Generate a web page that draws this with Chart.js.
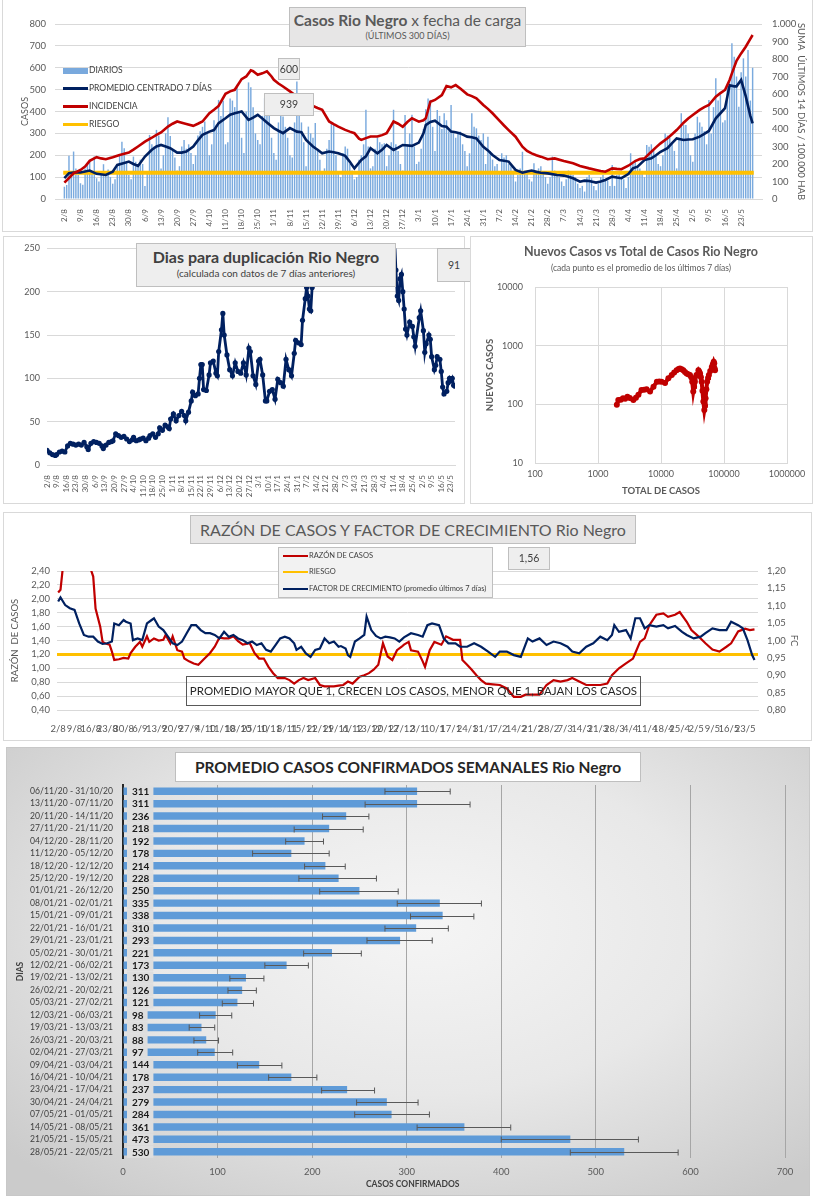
<!DOCTYPE html>
<html>
<head>
<meta charset="utf-8">
<script src="https://cdn.jsdelivr.net/npm/chart.js@4.4.0/dist/chart.umd.min.js"></script>
<style>
  body { margin: 0; width: 816px; height: 1200px; position: relative; background: #fff; font-family: Lato, "Noto Sans", sans-serif; overflow: hidden; }
  .panel { position: absolute; box-sizing: border-box; border: 1px solid #d9d9d9; background: #fff; }
  canvas { position: absolute; }
  .caja { position: absolute; box-sizing: border-box; border: 1px solid #bfbfbf; background: #eeeeee; color: #404040; text-align: center; }
  .txt { position: absolute; color: #404040; white-space: nowrap; }
  .ley { position: absolute; font-size: 8.5px; color: #404040; white-space: nowrap; }
  .ley i { display: inline-block; width: 25px; vertical-align: middle; margin-right: 1px; }
</style>
</head>
<body>

<!-- panel 1 -->
<div class="panel" style="left:2px;top:-1px;width:811px;height:233px"></div>
<canvas id="c1" width="816" height="232" style="left:0;top:0"></canvas>
<div class="caja" style="left:289px;top:7px;width:237px;height:40px;background:#e7e6e6">
  <div style="font-size:15.5px;color:#595959;margin-top:3px"><b>Casos Rio Negro</b> x fecha de carga</div>
  <div style="font-size:9px;color:#595959;margin-top:1px">(ÚLTIMOS 300 DÍAS)</div>
</div>
<div class="ley" style="left:63px;top:65px"><i style="height:6px;background:#79a9dd"></i>DIARIOS</div>
<div class="ley" style="left:63px;top:83px"><i style="height:3px;background:#002060"></i>PROMEDIO CENTRADO 7 DÍAS</div>
<div class="ley" style="left:63px;top:101px"><i style="height:3px;background:#c00000"></i>INCIDENCIA</div>
<div class="ley" style="left:63px;top:119px"><i style="height:3px;background:#ffc000"></i>RIESGO</div>
<div class="caja" id="ultDiario" style="left:278px;top:58px;width:22px;height:22px;font-size:10.5px;line-height:20px"></div>
<div class="caja" id="ultIncid" style="left:264px;top:93px;width:50px;height:23px;font-size:10.5px;line-height:21px"></div>

<!-- panel 2 -->
<div class="panel" style="left:3px;top:236px;width:462px;height:268px"></div>
<canvas id="c2" width="462" height="268" style="left:3px;top:236px"></canvas>
<div class="caja" style="left:136px;top:243px;width:260px;height:44px;background:#eeeeee">
  <div style="font-size:16px;font-weight:bold;color:#404040;margin-top:3px">Dias para duplicación Rio Negro</div>
  <div style="font-size:10px;color:#404040;margin-top:1px">(calculada con datos de 7 días anteriores)</div>
</div>
<div class="caja" id="ultDup" style="left:437px;top:248px;width:34px;height:34px;font-size:10.5px;line-height:32px"></div>

<!-- panel 3 -->
<div class="panel" style="left:470px;top:236px;width:343px;height:268px"></div>
<canvas id="c3" width="342" height="268" style="left:470px;top:236px"></canvas>
<div class="txt" style="left:470px;width:342px;top:244px;text-align:center;font-size:12.5px;font-weight:bold;color:#595959">Nuevos Casos vs Total de Casos Rio Negro</div>
<div class="txt" style="left:470px;width:342px;top:263px;text-align:center;font-size:8.5px;color:#595959">(cada punto es el promedio de los últimos 7 días)</div>

<!-- panel 4 -->
<div class="panel" style="left:3px;top:512px;width:809px;height:229px"></div>
<canvas id="c4" width="809" height="228" style="left:3px;top:512px"></canvas>
<div class="caja" style="left:190px;top:515px;width:446px;height:29px;background:#e7e6e6;font-size:16px;line-height:27px;color:#595959">RAZÓN DE CASOS Y FACTOR DE CRECIMIENTO Rio Negro</div>
<div class="caja" style="left:278px;top:547px;width:215px;height:51px;background:#f2f2f2;text-align:left">
  <div class="ley" style="left:4px;top:3px;font-size:7.5px"><i style="height:2px;background:#c00000"></i>RAZÓN DE CASOS</div>
  <div class="ley" style="left:4px;top:19px;font-size:7.5px"><i style="height:2px;background:#ffc000"></i>RIESGO</div>
  <div class="ley" style="left:4px;top:36px;font-size:7.5px"><i style="height:2px;background:#002060"></i>FACTOR DE CRECIMIENTO (promedio últimos 7 días)</div>
</div>
<div class="caja" id="ultRazon" style="left:508px;top:547px;width:42px;height:23px;font-size:10.5px;line-height:21px"></div>
<div class="caja" style="left:186px;top:676px;width:455px;height:30px;background:transparent;border-color:#595959;font-size:11.5px;line-height:28px;color:#262626">PROMEDIO MAYOR QUE 1, CRECEN LOS CASOS, MENOR QUE 1, BAJAN LOS CASOS</div>

<!-- panel 5 -->
<div class="panel" style="left:6px;top:747px;width:804px;height:449px;border-color:#c8c8c8;background:radial-gradient(ellipse 70% 75% at 52% 40%, #f5f5f5 0%, #e8e8e8 50%, #cbcbcb 100%)"></div>
<canvas id="c5" width="816" height="455" style="left:0;top:745px"></canvas>
<div class="caja" style="left:175px;top:752px;width:466px;height:30px;background:#fff;font-size:15.5px;font-weight:bold;line-height:28px;color:#262626">PROMEDIO CASOS CONFIRMADOS SEMANALES Rio Negro</div>
<div class="txt" style="left:366px;top:1179px;font-size:8.5px;font-weight:bold;color:#404040">CASOS CONFIRMADOS</div>

<script>
// ---------- datos ----------
const etiquetasSemanas = ['2/8','9/8','16/8','23/8','30/8','6/9','13/9','20/9','27/9','4/10','11/10','18/10','25/10',
  '1/11','8/11','15/11','22/11','29/11','6/12','13/12','20/12','27/12','3/1','10/1','17/1','24/1','31/1',
  '7/2','14/2','21/2','28/2','7/3','14/3','21/3','28/3','4/4','11/4','18/4','25/4','2/5','9/5','16/5','23/5'];

// casos diarios (un valor por día desde 2/8)
const diarios = [
  56, 64, 198, 120, 217, 140, 110,
  72, 65, 140, 160, 179, 120, 194,
  95, 80, 110, 159, 120, 135, 100,
  70, 90, 160, 200, 262, 232, 170,
  110, 90, 194, 170, 150, 180, 160,
  60, 120, 293, 250, 240, 316, 290,
  140, 200, 300, 374, 288, 220, 190,
  130, 150, 240, 270, 230, 250, 210,
  160, 200, 290, 310, 330, 354, 300,
  200, 250, 360, 340, 453, 380, 449,
  250, 260, 460, 450, 420, 522, 400,
  280, 210, 400, 533, 511, 420, 300,
  270, 250, 380, 461, 453, 420, 280,
  210, 180, 350, 392, 377, 330, 280,
  200, 190, 350, 537, 400, 350, 260,
  150, 331, 300, 280, 347, 220, 180,
  120, 140, 230, 270, 347, 339, 200,
  120, 100, 210, 240, 230, 160, 130,
  90, 100, 180, 200, 250, 408, 240,
  140, 150, 230, 280, 260, 250, 255,
  150, 200, 260, 408, 250, 220, 160,
  130, 384, 250, 300, 385, 240, 160,
  170, 230, 320, 410, 460, 453, 330,
  220, 407, 380, 320, 392, 360, 310,
  430, 300, 280, 300, 308, 250, 220,
  150, 209, 392, 330, 323, 290, 270,
  300, 160, 285, 220, 180, 150, 160,
  120, 209, 190, 200, 160, 150, 130,
  80, 110, 140, 216, 130, 120, 90,
  80, 163, 130, 140, 150, 120, 100,
  70, 100, 194, 130, 120, 100, 80,
  60, 90, 130, 120, 110, 100, 70,
  50, 60, 34, 100, 110, 95, 60,
  40, 70, 100, 110, 90, 85, 60,
  155, 60, 110, 120, 100, 90, 50,
  100, 209, 160, 180, 150, 140, 120,
  100, 247, 239, 250, 220, 200, 160,
  150, 200, 300, 290, 280, 250, 220,
  140, 280, 392, 340, 338, 300, 200,
  170, 300, 376, 350, 330, 310, 250,
  453, 300, 420, 552, 450, 476, 350,
  360, 520, 536, 712, 650, 560, 422,
  580, 643, 560, 681, 450, 600
];

// promedio centrado 7 días (día, casos)
const promedioDias = [0,2,4,7,11,14,18,21,23,26,28,30,32,35,38,40,42,44,46,49,51,53,56,58,60,63,65,67,70,72,74,77,80,82,84,86,88,91,93,95,98,101,103,105,108,110,112,115,117,119,122,124,126,129,131,133,136,138,140,143,145,147,151,154,156,157,159,161,164,166,168,170,172,175,177,179,182,184,186,189,191,193,196,199,201,203,205,207,210,214,217,219,221,224,226,228,231,233,235,238,240,242,245,247,249,252,255,257,259,262,264,266,269,271,273,276,278,280,283,285,287,289,291,292,294,296,298,299];
const promedioCasos = [95,118,121,121,130,115,110,125,156,165,171,160,151,194,225,240,247,240,232,212,212,217,240,268,293,308,315,347,369,385,392,400,362,372,385,368,350,324,312,301,324,308,305,270,240,225,209,217,214,209,197,170,140,179,195,232,209,225,247,224,235,247,243,258,300,338,352,358,334,330,308,305,300,285,282,277,239,222,201,178,175,171,133,120,126,130,124,120,117,110,107,102,95,79,84,82,75,80,87,102,98,95,114,140,148,178,186,200,216,232,255,277,270,272,273,285,298,311,369,392,415,520,515,515,544,470,380,346];

// incidencia: suma últimos 14 días / 100.000 hab
const incidenciaDias = [0,2,4,7,9,11,14,16,18,21,24,28,30,32,35,38,40,42,45,47,49,51,53,56,58,60,63,65,67,70,72,74,77,79,81,82,84,86,88,90,91,93,95,98,101,103,105,108,110,112,115,117,119,122,124,126,128,129,131,133,136,138,140,142,143,145,147,149,151,154,156,157,159,161,164,166,168,170,172,175,177,179,182,184,186,189,191,193,196,199,201,203,205,207,210,213,217,221,224,228,231,233,235,238,240,242,245,248,250,252,255,257,259,262,264,266,269,271,273,276,278,280,283,285,287,289,290,292,294,296,298,299];
const incidenciaValores = [94,120,147,166,185,218,239,232,227,239,252,265,282,300,328,350,366,380,414,430,443,436,429,418,430,443,490,510,532,601,615,624,685,700,735,730,710,718,729,700,681,660,643,615,586,575,567,532,520,510,443,428,414,395,385,376,345,338,348,357,357,365,376,420,443,430,413,440,461,442,450,461,556,566,594,646,638,651,632,598,588,575,537,515,490,448,420,394,356,299,275,261,250,242,227,232,217,204,189,175,166,160,156,175,172,170,190,217,228,232,270,295,318,347,370,394,436,460,480,509,525,537,585,605,623,680,718,790,832,870,915,937];
const riesgoIncidencia = 150;
const ultimoDiario = 600;
const ultimaIncidencia = 939;

// días para duplicación
const duplicacionDias = [0,2,4,6,7,9,11,13,15,17,19,21,23,25,27,29,30,32,34,36,38,40,41,43,45,47,48,50,52,54,56,58,60,62,63,65,67,68,70,72,74,75,77,79,81,82,84,86,88,89,90,92,94,96,98,100,101,103,105,106,108,110,111,112,113,114,116,118,119,121,123,124,125,127,128,129,131,133,135,137,139,141,143,145,147,148,150,152,154,155,157,159,160,162,164,166,168,170,172,174,176,178,180,181,183,185,186,188,189,190,191,192,193,195,197,200,215,235,250,253,254,255,256,257,258,259,260,261,262,264,266,267,268,271,272,274,275,276,278,279,280,282,283,284,286,287,288,289,291,292,293,294,295,296,297];
const duplicacionValores = [17,14,12,11,12,15,16,15,22,25,24,23,24,23,26,21,18,25,27,26,25,22,19,23,26,27,28,36,34,32,33,30,27,29,32,28,29,30,31,28,31,34,36,32,36,43,40,46,44,42,53,59,51,57,62,57,51,61,74,84,80,82,100,116,116,87,86,104,118,120,106,103,131,156,175,150,127,110,103,118,108,106,118,104,135,131,103,93,120,122,104,74,74,85,87,76,99,95,91,122,110,103,129,144,141,139,167,192,205,195,180,178,205,265,340,420,520,480,330,262,225,195,190,215,220,200,180,157,150,165,160,148,137,170,178,155,130,140,150,145,125,110,115,125,122,108,90,82,85,95,100,97,100,92,91];
const ultimaDuplicacion = 91;

// nuevos casos vs total de casos (promedio 7 días)
const totalCasos = [1990,2100,2300,2500,2700,2930,3200,3640,4000,4380,4900,5400,5900,6700,7600,8600,9400,10200,11600,13100,14800,16200,17700,19000,20000,21300,22600,24000,25500,27000,28800,30200,31300,32500,33500,34500,36600,39300,40500,41700,43000,44200,45500,47000,48700,50000,51000,52500,54000,55800,57600,60500,64000,66500,68600,70000,71000,72000];
const nuevosCasos = [98,118,120,127,125,135,128,118,130,145,175,178,180,165,200,243,245,243,230,277,316,350,380,400,410,395,380,355,335,325,316,290,243,165,200,243,316,380,360,335,290,243,170,112,80,95,127,180,243,280,316,370,435,480,530,500,410,380];
const ticksTotal = [100, 1000, 10000, 100000, 1000000];
const ticksNuevos = [10, 100, 1000, 10000];

// razón de casos y factor de crecimiento
const razonDias = [0,1,2,4,8,12,14,15,16,18,19,20,22,23,24,26,28,30,31,33,35,36,38,39,41,43,45,46,48,49,51,53,54,56,58,60,62,65,67,69,71,73,75,77,79,82,84,86,88,90,92,94,97,99,101,103,105,107,110,112,114,116,118,120,122,124,126,129,131,133,135,137,139,141,143,145,147,148,150,151,154,156,157,159,161,164,166,169,172,173,175,177,179,181,183,186,189,192,195,198,200,203,206,209,212,215,218,220,223,226,229,232,235,237,240,243,246,247,249,251,253,256,259,261,264,266,269,271,274,277,280,283,286,288,291,294,296,298];
const razonValores = [2.09,2.13,2.45,2.7,3.0,2.8,2.42,2.32,1.86,1.60,1.38,1.36,1.34,1.24,1.12,1.13,1.15,1.14,1.22,1.31,1.38,1.31,1.46,1.38,1.43,1.40,1.41,1.48,1.36,1.46,1.26,1.24,1.14,1.10,1.07,1.05,1.12,1.22,1.31,1.44,1.43,1.43,1.46,1.39,1.34,1.36,1.22,1.14,1.14,1.02,0.93,0.86,0.86,0.83,0.78,0.83,0.86,0.83,0.86,0.76,0.74,0.74,0.74,0.75,0.76,0.81,0.78,0.88,0.90,0.93,0.98,1.05,1.36,1.17,1.12,1.26,1.31,1.34,1.38,1.26,1.24,1.10,1.02,1.26,1.38,1.34,1.46,1.41,1.41,1.12,1.05,0.98,0.90,0.83,0.78,0.77,0.76,0.71,0.59,0.59,0.62,0.62,0.62,0.76,0.83,0.81,0.83,0.86,0.81,0.76,0.76,0.76,0.78,0.90,1.00,1.07,1.14,1.22,1.38,1.43,1.62,1.77,1.79,1.74,1.77,1.81,1.67,1.55,1.46,1.36,1.27,1.24,1.31,1.36,1.53,1.57,1.55,1.56];
const fcDias = [0,1,3,5,7,9,11,13,15,17,19,21,23,24,26,28,29,31,32,34,36,38,40,41,43,45,47,49,51,53,55,57,59,61,63,65,67,69,71,73,75,77,79,81,83,85,87,89,91,93,95,97,99,101,102,104,106,108,110,112,114,116,118,120,121,123,124,125,127,129,131,132,134,136,138,140,142,144,146,148,151,154,156,158,160,163,165,167,170,172,175,178,181,184,187,189,192,195,198,201,203,206,209,212,215,218,220,223,226,229,232,235,237,238,240,243,245,247,249,251,253,256,259,261,264,267,269,272,275,277,280,283,286,288,291,293,295,297,298];
const fcValores = [1.112,1.124,1.102,1.093,1.088,1.049,1.016,1.011,1.011,0.997,0.990,0.992,0.997,1.049,1.044,1.059,1.054,1.049,1.001,1.006,1.001,1.049,1.059,1.064,1.040,1.030,1.011,0.992,0.987,0.997,1.021,1.044,1.044,1.030,1.021,1.021,1.016,1.006,1.025,1.011,1.016,1.006,1.001,0.992,0.997,0.987,0.992,0.973,0.968,0.987,1.006,1.011,1.006,0.992,0.973,0.982,0.963,0.953,0.973,0.977,1.006,0.992,0.997,0.982,0.984,0.977,0.958,0.953,0.997,1.006,1.016,1.069,1.030,1.013,1.006,1.011,1.009,1.006,0.997,1.009,1.021,1.016,1.011,1.044,1.049,1.044,1.006,0.992,0.992,0.982,0.982,0.992,0.982,0.968,0.953,0.968,0.968,0.958,0.953,1.006,0.997,1.006,0.987,0.997,0.992,0.982,0.968,0.963,0.982,0.992,1.011,1.001,1.016,1.044,1.025,1.030,1.006,1.064,1.064,1.035,1.044,1.040,1.044,1.035,1.042,1.025,1.016,1.006,1.011,1.021,1.035,1.030,1.030,1.054,1.044,1.035,1.001,0.958,0.944];
const riesgoRazon = 1.2;
const ultimaRazon = '1,56';

// promedio semanal de casos confirmados
const semanas = ['06/11/20 - 31/10/20','13/11/20 - 07/11/20','20/11/20 - 14/11/20','27/11/20 - 21/11/20','04/12/20 - 28/11/20',
  '11/12/20 - 05/12/20','18/12/20 - 12/12/20','25/12/20 - 19/12/20','01/01/21 - 26/12/20','08/01/21 - 02/01/21',
  '15/01/21 - 09/01/21','22/01/21 - 16/01/21','29/01/21 - 23/01/21','05/02/21 - 30/01/21','12/02/21 - 06/02/21',
  '19/02/21 - 13/02/21','26/02/21 - 20/02/21','05/03/21 - 27/02/21','12/03/21 - 06/03/21','19/03/21 - 13/03/21',
  '26/03/21 - 20/03/21','02/04/21 - 27/03/21','09/04/21 - 03/04/21','16/04/21 - 10/04/21','23/04/21 - 17/04/21',
  '30/04/21 - 24/04/21','07/05/21 - 01/05/21','14/05/21 - 08/05/21','21/05/21 - 15/05/21','28/05/21 - 22/05/21'];
const promedioSemanal = [311,311,236,218,192,178,214,228,250,335,338,310,293,221,173,130,126,121,98,83,88,97,144,178,237,279,284,361,473,530];
const errorMin = [277,256,211,181,172,137,192,186,208,290,304,277,258,191,150,113,111,105,81,70,75,79,121,154,210,247,245,311,400,473];
const errorMax = [346,367,260,254,212,218,235,268,291,379,371,344,327,252,196,149,141,138,115,97,101,116,168,205,266,312,324,410,545,587];

// ---------- ayudas ----------
Chart.defaults.font.family = 'Lato, "Noto Sans", sans-serif';
Chart.defaults.color = '#595959';
Chart.defaults.animation = false;
Chart.defaults.plugins.legend.display = false;
Chart.defaults.plugins.tooltip.enabled = false;

function puntos(dias, valores) {
  return dias.map((d, i) => ({ x: d, y: valores[i] }));
}
function ticksSemanales(s) {
  s.ticks = etiquetasSemanas.map((e, i) => ({ value: i * 7 }));
}
const coma = (v, dec) => v.toFixed(dec).replace('.', ',');

document.getElementById('ultDiario').textContent = ultimoDiario;
document.getElementById('ultIncid').textContent = ultimaIncidencia;
document.getElementById('ultDup').textContent = ultimaDuplicacion;
document.getElementById('ultRazon').textContent = ultimaRazon;

// ---------- 1: casos diarios ----------
new Chart(document.getElementById('c1'), {
  type: 'bar',
  data: {
    datasets: [
      { type: 'line', data: puntos(incidenciaDias, incidenciaValores), yAxisID: 'yDer', borderColor: '#c00000', borderWidth: 2.6, pointRadius: 0, order: 1 },
      { type: 'line', data: puntos(promedioDias, promedioCasos), yAxisID: 'y', borderColor: '#002060', borderWidth: 2.6, pointRadius: 0, order: 2 },
      { type: 'line', data: [{ x: -0.5, y: riesgoIncidencia }, { x: 299.5, y: riesgoIncidencia }], yAxisID: 'yDer', borderColor: '#ffc000', borderWidth: 4, pointRadius: 0, order: 3 },
      { type: 'bar', data: diarios.map((v, i) => ({ x: i, y: v })), yAxisID: 'y', backgroundColor: '#7aaade', barPercentage: 0.7, categoryPercentage: 0.9, order: 4 }
    ]
  },
  options: {
    responsive: false,
    layout: { padding: { left: 16, right: 5, top: 24, bottom: 3 } },
    scales: {
      x: {
        type: 'linear', min: -0.5, max: 299.5,
        afterBuildTicks: ticksSemanales,
        afterFit: s => { s.height = 30; },
        grid: { display: false },
        border: { color: '#d9d9d9' },
        ticks: { autoSkip: false, minRotation: 90, maxRotation: 90, padding: 2, font: { size: 8 }, callback: (v, i) => etiquetasSemanas[i] }
      },
      y: {
        min: 0, max: 800,
        afterFit: s => { s.width = 39; },
        grid: { color: '#d9d9d9', drawTicks: false },
        border: { display: false },
        ticks: { stepSize: 100, padding: 9, font: { size: 9.5 } },
        title: { display: true, text: 'CASOS', font: { size: 9 } }
      },
      yDer: {
        position: 'right', min: 0, max: 1000,
        afterFit: s => { s.width = 49; },
        grid: { display: false, drawTicks: false },
        border: { display: false },
        ticks: { stepSize: 100, padding: 10, font: { size: 9.5 }, callback: v => v >= 1000 ? '1.000' : v },
        title: { display: true, text: 'SUMA  ÚLTIMOS 14 DÍAS / 100.000 HAB', font: { size: 9.5 } }
      }
    }
  }
});

// ---------- 2: días para duplicación ----------
new Chart(document.getElementById('c2'), {
  type: 'line',
  data: {
    datasets: [{
      data: puntos(duplicacionDias, duplicacionValores),
      borderColor: '#002060', borderWidth: 2.8,
      pointRadius: 2.6, pointBackgroundColor: '#002060', pointBorderWidth: 0
    }]
  },
  options: {
    responsive: false,
    layout: { padding: { left: 8, right: 10, top: 10, bottom: 2 } },
    scales: {
      x: {
        type: 'linear', min: 0, max: 297,
        afterBuildTicks: ticksSemanales,
        afterFit: s => { s.height = 37; },
        grid: { display: false },
        border: { color: '#d9d9d9' },
        ticks: { autoSkip: false, minRotation: 90, maxRotation: 90, padding: 2, font: { size: 8 }, callback: (v, i) => etiquetasSemanas[i] }
      },
      y: {
        min: 0, max: 250,
        afterFit: s => { s.width = 36; },
        grid: { color: '#d9d9d9', drawTicks: false },
        border: { display: false },
        ticks: { stepSize: 50, padding: 7, font: { size: 9 } }
      }
    }
  }
});

// ---------- 3: nuevos casos vs total ----------
new Chart(document.getElementById('c3'), {
  type: 'scatter',
  data: {
    datasets: [{
      data: puntos(totalCasos, nuevosCasos),
      showLine: true, borderColor: '#c00000', borderWidth: 4,
      pointRadius: 3, pointBackgroundColor: '#c00000', pointBorderWidth: 0
    }]
  },
  options: {
    responsive: false,
    layout: { padding: { left: 10, right: 25, top: 51, bottom: 3 } },
    scales: {
      x: {
        type: 'logarithmic', min: 100, max: 1000000,
        afterBuildTicks: s => { s.ticks = ticksTotal.map(v => ({ value: v })); },
        afterFit: s => { s.height = 38; },
        grid: { color: '#d9d9d9', drawTicks: false },
        border: { color: '#d9d9d9' },
        ticks: { padding: 6, font: { size: 9 }, callback: v => String(v) },
        title: { display: true, text: 'TOTAL DE CASOS', font: { size: 9.5, weight: 'bold' } }
      },
      y: {
        type: 'logarithmic', min: 10, max: 10000,
        afterBuildTicks: s => { s.ticks = ticksNuevos.map(v => ({ value: v })); },
        afterFit: s => { s.width = 55; },
        grid: { color: '#d9d9d9', drawTicks: false },
        border: { color: '#d9d9d9' },
        ticks: { padding: 12, font: { size: 9 }, callback: v => String(v) },
        title: { display: true, text: 'NUEVOS CASOS', font: { size: 9.5, weight: 'bold' } }
      }
    }
  }
});

// ---------- 4: razón de casos y FC ----------
new Chart(document.getElementById('c4'), {
  type: 'line',
  data: {
    datasets: [
      { data: puntos(fcDias, fcValores), yAxisID: 'yDer', borderColor: '#002060', borderWidth: 2.2, pointRadius: 0, order: 1 },
      { data: puntos(razonDias, razonValores), yAxisID: 'y', borderColor: '#c00000', borderWidth: 2.2, pointRadius: 0, order: 2 },
      { data: [{ x: -0.5, y: riesgoRazon }, { x: 299.5, y: riesgoRazon }], yAxisID: 'y', borderColor: '#ffc000', borderWidth: 3, pointRadius: 0, order: 3 }
    ]
  },
  options: {
    responsive: false,
    layout: { padding: { left: 2, right: 8, top: 59, bottom: 2 } },
    scales: {
      x: {
        type: 'linear', min: -0.5, max: 299.5,
        afterBuildTicks: ticksSemanales,
        afterFit: s => { s.height = 28; },
        grid: { display: false },
        border: { color: '#d9d9d9' },
        ticks: { autoSkip: false, minRotation: 0, maxRotation: 0, padding: 5, font: { size: 9.5 }, callback: (v, i) => etiquetasSemanas[i] }
      },
      y: {
        min: 0.4, max: 2.4,
        afterFit: s => { s.width = 52; },
        grid: { color: '#d9d9d9', drawTicks: false },
        border: { display: false },
        ticks: { autoSkip: false, stepSize: 0.2, padding: 7, font: { size: 9.5 }, callback: v => coma(v, 2) },
        title: { display: true, text: 'RAZÓN  DE CASOS', font: { size: 9.5 } }
      },
      yDer: {
        position: 'right', min: 0.8, max: 1.2,
        afterFit: s => { s.width = 46; },
        grid: { display: false, drawTicks: false },
        border: { display: false },
        ticks: { autoSkip: false, stepSize: 0.05, padding: 9, font: { size: 9.5 }, callback: v => coma(v, 2) },
        title: { display: true, text: 'FC', font: { size: 9.5 } }
      }
    }
  }
});

// ---------- 5: promedio semanal ----------
const extrasSemanal = {
  id: 'extrasSemanal',
  afterDatasetsDraw(chart) {
    const { ctx, scales: { x, y } } = chart;
    ctx.save();
    ctx.strokeStyle = '#595959';
    ctx.lineWidth = 1;
    promedioSemanal.forEach((v, i) => {
      const yc = Math.round(y.getPixelForValue(i)) + 0.5;
      const x1 = x.getPixelForValue(errorMin[i]);
      const x2 = x.getPixelForValue(errorMax[i]);
      ctx.beginPath();
      ctx.moveTo(x1, yc); ctx.lineTo(x2, yc);
      ctx.moveTo(x1, yc - 3); ctx.lineTo(x1, yc + 3);
      ctx.moveTo(x2, yc - 3); ctx.lineTo(x2, yc + 3);
      ctx.stroke();
    });
    ctx.font = 'bold 10px Lato, sans-serif';
    ctx.textBaseline = 'middle';
    promedioSemanal.forEach((v, i) => {
      const yc = y.getPixelForValue(i);
      const t = String(v);
      const w = ctx.measureText(t).width;
      ctx.fillStyle = '#dedede';
      ctx.fillRect(x.left + 4, yc - 6, w + 9, 12);
      ctx.fillStyle = '#1a1a1a';
      ctx.fillText(t, x.left + 9, yc + 0.5);
    });
    ctx.restore();
  }
};

new Chart(document.getElementById('c5'), {
  type: 'bar',
  data: {
    labels: semanas,
    datasets: [{ data: promedioSemanal, backgroundColor: '#5f9bd8', barPercentage: 0.6, categoryPercentage: 1 }]
  },
  options: {
    responsive: false,
    indexAxis: 'y',
    layout: { padding: { left: 11, right: 31, top: 40, bottom: 5 } },
    scales: {
      x: {
        min: 0, max: 700,
        afterFit: s => { s.height = 37; },
        grid: { color: '#a6a6a6', drawTicks: false },
        border: { display: false },
        ticks: { stepSize: 100, padding: 8, font: { size: 9.5 } }
      },
      y: {
        afterFit: s => { s.width = 112; },
        grid: { display: false, drawTicks: false },
        border: { color: '#262626', width: 2 },
        ticks: { autoSkip: false, padding: 10, font: { size: 8.6 }, color: '#404040' },
        title: { display: true, text: 'DIAS', font: { size: 8.5, weight: 'bold' }, color: '#404040' }
      }
    }
  },
  plugins: [extrasSemanal]
});
</script>
</body>
</html>
